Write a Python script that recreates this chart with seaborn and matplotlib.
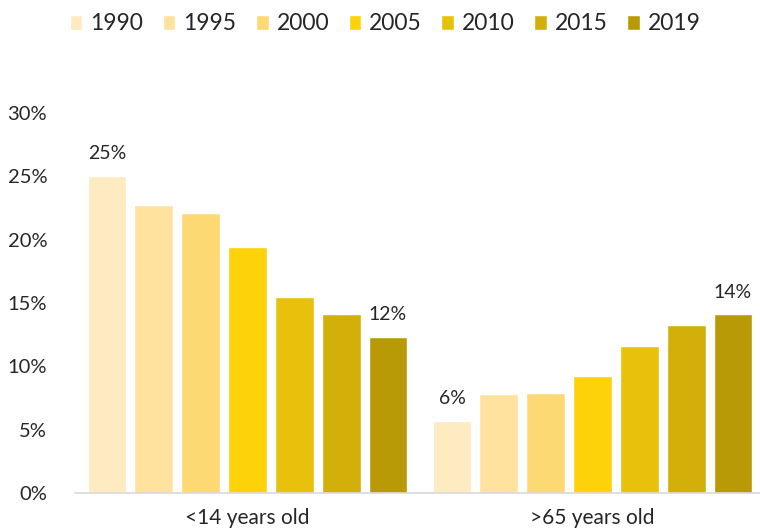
import pandas as pd
import numpy as np
import seaborn as sns
import matplotlib.pyplot as plt
from matplotlib.ticker import FuncFormatter

# data (% of population)
groups = ["<14 years old", ">65 years old"]
years = ["1990", "1995", "2000", "2005", "2010", "2015", "2019"]
young = [25.0, 22.7, 22.1, 19.4, 15.5, 14.1, 12.3]
old = [5.7, 7.8, 7.9, 9.2, 11.6, 13.3, 14.1]
colors = ["#FEEBC2", "#FEE29E", "#FDD974", "#FDD20A", "#E8C10C", "#D3AF0A", "#B89A06"]

df = pd.DataFrame({
    "group": [groups[0]] * len(years) + [groups[1]] * len(years),
    "year": years + years,
    "share": young + old,
})

sns.set_style("white")
plt.rcParams["font.family"] = ["Lato", "DejaVu Sans"]

fig = plt.figure(figsize=(7.6, 5.32), dpi=100)
ax = fig.add_axes([75 / 760, 39 / 532, 690 / 760, 380 / 532])

sns.barplot(data=df, x="group", y="share", hue="year", palette=colors,
            width=0.95, gap=0.17, saturation=1, legend=True, ax=ax)

ax.set_ylim(0, 30)
ax.set_xlim(-0.5, 1.5)
ax.set_yticks(np.arange(0, 31, 5))
ax.yaxis.set_major_formatter(FuncFormatter(lambda v, p: f"{v:.0f}%"))
ax.set_xlabel("")
ax.set_ylabel("")

for s in ["top", "right", "left"]:
    ax.spines[s].set_visible(False)
ax.spines["bottom"].set_color("#D9D9D9")
ax.spines["bottom"].set_linewidth(1.2)

ax.tick_params(axis="y", length=0, labelsize=14.5, pad=20)
ax.tick_params(axis="x", which="major", length=0, labelsize=15, pad=11)
ax.set_xticks([-0.5, 0.5, 1.5], minor=True)
ax.tick_params(axis="x", which="minor", length=8, color="#D9D9D9", width=1.2)

# labels on first and last years only
first = ax.containers[0]
last = ax.containers[-1]
ax.bar_label(first, labels=[f"{v:.0f}%" for v in [young[0], old[0]]], padding=10, fontsize=14)
ax.bar_label(last, labels=[f"{v:.0f}%" for v in [young[-1], old[-1]]], padding=10, fontsize=14)

handles, labels = ax.get_legend_handles_labels()
ax.legend_.remove()
fig.legend(handles, labels, loc="center", bbox_to_anchor=(0.507, 0.955), ncol=7,
           frameon=False, fontsize=16.5, handlelength=0.55, handleheight=0.6,
           handletextpad=0.35, columnspacing=0.85)

fig.savefig("out.png", dpi=100)
